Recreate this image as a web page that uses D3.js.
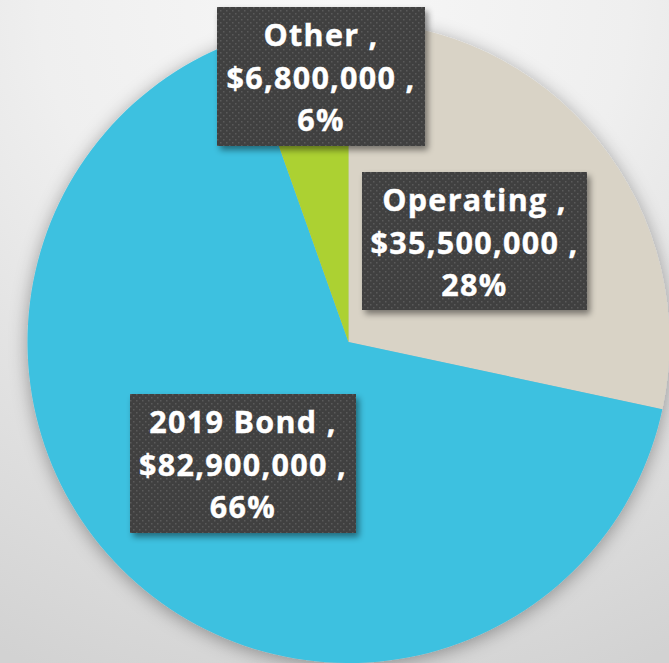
<!DOCTYPE html>
<html><head><meta charset="utf-8">
<script src="https://cdn.jsdelivr.net/npm/d3@7"></script>
<style>html,body{margin:0;padding:0;overflow:hidden;}svg{display:block;}</style>
</head><body>
<script>
const categories = ["Operating", "2019 Bond", "Other"];
const values = [35500000, 82900000, 6800000];
const pctLabels = ["28%", "66%", "6%"];
const colors = ["#d9d3c6", "#3ec1e0", "#acd130"];

const W = 669, H = 663;
const cx = 348.5, cy = 342, R = 321;
// label boxes [x, y, w, h] for each category
const boxes = [[362, 172, 225, 138], [130, 394, 226, 139], [217, 7, 208, 139]];

const svg = d3.select("body").append("svg").attr("width", W).attr("height", H);
const defs = svg.append("defs");
const bg = defs.append("radialGradient").attr("id", "bg")
  .attr("cx", "50%").attr("cy", "0%").attr("r", "110%").attr("fx","50%").attr("fy","0%");
bg.append("stop").attr("offset", "0%").attr("stop-color", "#f7f7f7");
bg.append("stop").attr("offset", "40%").attr("stop-color", "#efefef");
bg.append("stop").attr("offset", "100%").attr("stop-color", "#d2d2d2");
const sh = defs.append("filter").attr("id", "pieShadow").attr("x", "-20%").attr("y", "-20%").attr("width", "140%").attr("height", "140%");
sh.append("feDropShadow").attr("dx", 0).attr("dy", 3).attr("stdDeviation", 9).attr("flood-color", "#000").attr("flood-opacity", 0.35);
const bs = defs.append("filter").attr("id", "boxShadow").attr("x", "-20%").attr("y", "-20%").attr("width", "140%").attr("height", "140%");
bs.append("feDropShadow").attr("dx", 3).attr("dy", 4).attr("stdDeviation", 3).attr("flood-color", "#000").attr("flood-opacity", 0.45);
const pat = defs.append("pattern").attr("id", "dots").attr("patternUnits", "userSpaceOnUse")
  .attr("width", 6).attr("height", 6);
pat.append("rect").attr("width", 6).attr("height", 6).attr("fill", "#3f3f3f");
pat.append("rect").attr("x", 1).attr("y", 1).attr("width", 1.5).attr("height", 1.5).attr("fill", "#5a5a5a");
pat.append("rect").attr("x", 4).attr("y", 4).attr("width", 1.5).attr("height", 1.5).attr("fill", "#5a5a5a");

svg.append("rect").attr("width", W).attr("height", H).attr("fill", "url(#bg)");

const data = categories.map((c, i) => ({cat: c, value: values[i], pct: pctLabels[i], color: colors[i], box: boxes[i]}));
const pie = d3.pie().value(d => d.value).sort(null);
const arc = d3.arc().innerRadius(0).outerRadius(R);
const g = svg.append("g").attr("transform", `translate(${cx},${cy})`);
g.append("g").attr("filter", "url(#pieShadow)")
  .selectAll("path").data(pie(data)).join("path")
  .attr("d", arc).attr("fill", d => d.data.color);

const fmt = d3.format("$,");
const lab = svg.append("g").selectAll("g").data(data).join("g");
lab.append("rect")
  .attr("x", d => d.box[0]).attr("y", d => d.box[1])
  .attr("width", d => d.box[2]).attr("height", d => d.box[3])
  .attr("fill", "url(#dots)").attr("filter", "url(#boxShadow)");
lab.each(function(d) {
  const lines = [d.cat + " ,", fmt(d.value) + " ,", d.pct];
  const t = d3.select(this).append("text")
    .attr("text-anchor", "middle")
    .attr("font-family", "'Open Sans', 'Noto Sans', sans-serif")
    .attr("font-weight", "bold").attr("font-size", 30.5)
    .attr("letter-spacing", 1.3)
    .attr("fill", "#ffffff")
    .attr("stroke", "#ffffff").attr("stroke-width", 0.4);
  lines.forEach((s, i) => {
    t.append("tspan").attr("x", d.box[0] + d.box[2] / 2)
      .attr("y", d.box[1] + 39 + i * 42.5).text(s);
  });
});
</script>
</body></html>
